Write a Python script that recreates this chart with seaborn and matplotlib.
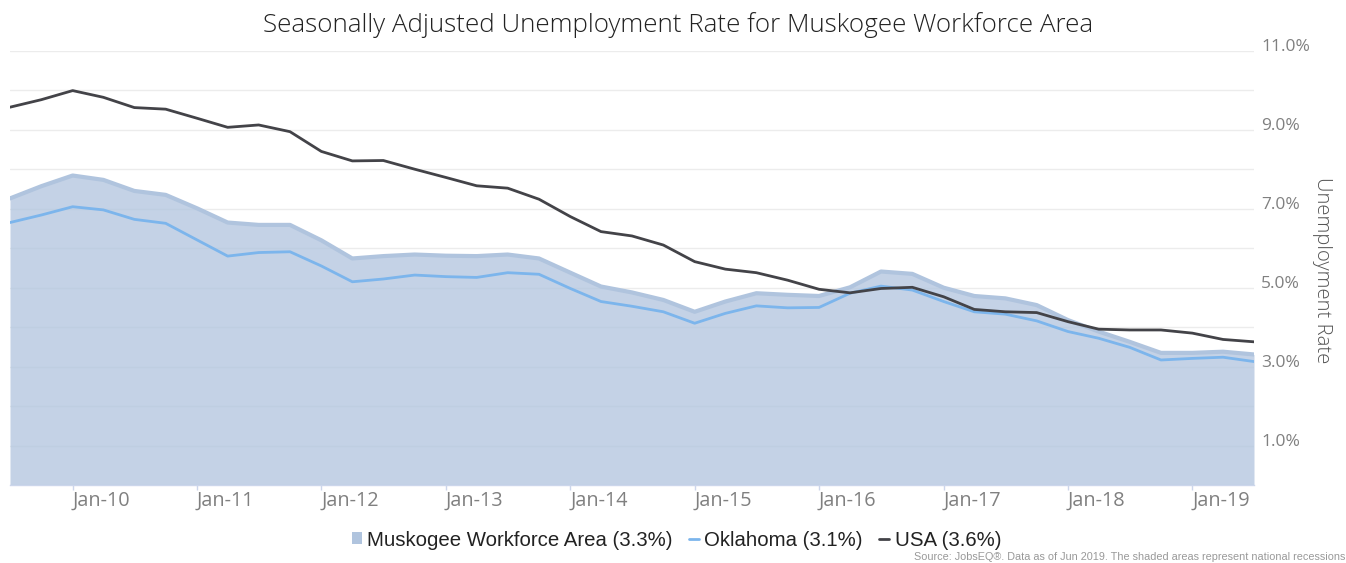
import matplotlib
matplotlib.use("Agg")
import matplotlib.pyplot as plt
from matplotlib.lines import Line2D
from matplotlib.patches import Patch
from matplotlib.transforms import ScaledTranslation
import pandas as pd
import seaborn as sns

# === data (quarterly) ===
quarters = pd.date_range("2009-07-01", periods=41, freq="QS")

muskogee = [7.26, 7.57, 7.84, 7.73, 7.45, 7.35, 7.01, 6.65, 6.59, 6.59,
            6.20, 5.74, 5.80, 5.84, 5.81, 5.80, 5.84, 5.74, 5.38, 5.03,
            4.88, 4.69, 4.39, 4.65, 4.86, 4.82, 4.79, 5.01, 5.41, 5.35,
            5.00, 4.79, 4.73, 4.56, 4.18, 3.89, 3.63, 3.35, 3.35, 3.38, 3.31]

oklahoma = [6.65, 6.84, 7.05, 6.97, 6.73, 6.63, 6.21, 5.80, 5.89, 5.91,
            5.55, 5.15, 5.22, 5.32, 5.28, 5.26, 5.38, 5.34, 4.98, 4.65,
            4.53, 4.39, 4.10, 4.35, 4.54, 4.49, 4.50, 4.86, 5.04, 4.94,
            4.65, 4.39, 4.33, 4.16, 3.89, 3.72, 3.49, 3.17, 3.21, 3.24, 3.13]

usa = [9.57, 9.76, 9.99, 9.82, 9.56, 9.52, 9.29, 9.06, 9.12, 8.95,
       8.45, 8.21, 8.22, 8.00, 7.79, 7.58, 7.52, 7.24, 6.80, 6.42,
       6.31, 6.08, 5.66, 5.47, 5.38, 5.19, 4.96, 4.87, 4.98, 5.01,
       4.77, 4.45, 4.39, 4.37, 4.14, 3.95, 3.93, 3.93, 3.85, 3.69, 3.63]

year_ticks = pd.date_range("2010-01-01", "2019-01-01", freq="YS")
y_ticks = list(range(0, 12))
legend_labels = ["Muskogee Workforce Area (3.3%)", "Oklahoma (3.1%)", "USA (3.6%)"]

title = "Seasonally Adjusted Unemployment Rate for Muskogee Workforce Area"
source = "Source: JobsEQ®. Data as of Jun 2019. The shaded areas represent national recessions"

MUSK = "#b0c4de"
OKLA = "#7cb5ec"
US = "#434348"

df = pd.DataFrame({"date": quarters, "Muskogee": muskogee,
                   "Oklahoma": oklahoma, "USA": usa})

sns.set_style("white")
plt.rcParams["font.family"] = ["Open Sans", "DejaVu Sans"]

fig = plt.figure(figsize=(13.46, 5.63), dpi=100)
ax = fig.add_axes([10 / 1346, 1 - 485.2 / 563, 1244 / 1346, 434.5 / 563])

# area + lines
ax.fill_between(df["date"], 0, df["Muskogee"], color=MUSK, alpha=0.75, lw=0, zorder=2)
sns.lineplot(data=df, x="date", y="Muskogee", ax=ax, color=MUSK, lw=3, zorder=3,
             solid_joinstyle="round")
sns.lineplot(data=df, x="date", y="Oklahoma", ax=ax, color=OKLA, lw=2, zorder=4,
             solid_joinstyle="round")
sns.lineplot(data=df, x="date", y="USA", ax=ax, color=US, lw=2, zorder=5,
             solid_joinstyle="round")

ax.set_xlim(quarters[0], quarters[-1])
ax.set_ylim(0, 11)
ax.set_xlabel("")
ax.set_ylabel("")

ax.set_xticks(year_ticks)
ax.set_xticklabels([d.strftime("Jan-%y") for d in year_ticks])
ax.yaxis.tick_right()
ax.set_yticks(y_ticks)
ax.set_yticklabels([f"{v:.1f}%" if v % 2 == 1 else "" for v in y_ticks])

ax.grid(axis="y", color="#ececec", lw=1)
ax.grid(axis="x", visible=False)
ax.set_axisbelow(True)
for s in ["top", "left", "right"]:
    ax.spines[s].set_visible(False)
ax.spines["bottom"].set_color("#ccd6eb")
ax.spines["bottom"].set_linewidth(1)

ax.tick_params(axis="x", length=3.6, width=1, color="#ccd6eb", labelcolor="#808080",
               labelsize=14.3, pad=0.5, direction="out", bottom=True)
ax.tick_params(axis="y", length=0, pad=5, labelcolor="#808080", labelsize=12.5)
for lbl in ax.get_xticklabels():
    lbl.set_ha("left")
for lbl in ax.get_yticklabels():
    lbl.set_transform(lbl.get_transform() + ScaledTranslation(0, 0.06, fig.dpi_scale_trans))

# texts
fig.text(0.504, 1 - 25 / 563, title, ha="center", va="center", fontsize=18.7,
         fontweight="light", color="#222222")
fig.text(1322 / 1346, 1 - 270 / 563, "Unemployment Rate", rotation=270, ha="center",
         va="center", fontsize=14.6, fontweight="light", color="#555555")
fig.text(1345 / 1346, 1 - 557 / 563, source, ha="right", va="center", fontsize=7.8,
         color="#999999", family=["Liberation Sans Narrow", "Liberation Sans"])

handles = [Patch(facecolor=MUSK, edgecolor="none"),
           Line2D([], [], color=OKLA, lw=2),
           Line2D([], [], color=US, lw=2)]
fig.legend(handles, legend_labels, loc="center", bbox_to_anchor=(0.5026, 1 - 540 / 563),
           ncol=3, frameon=False, prop={"family": "Liberation Sans", "size": 14.7},
           handlelength=0.5, handleheight=0.5, handletextpad=0.25, columnspacing=0.8,
           labelcolor="#222222")

fig.savefig("out.png", dpi=100)
